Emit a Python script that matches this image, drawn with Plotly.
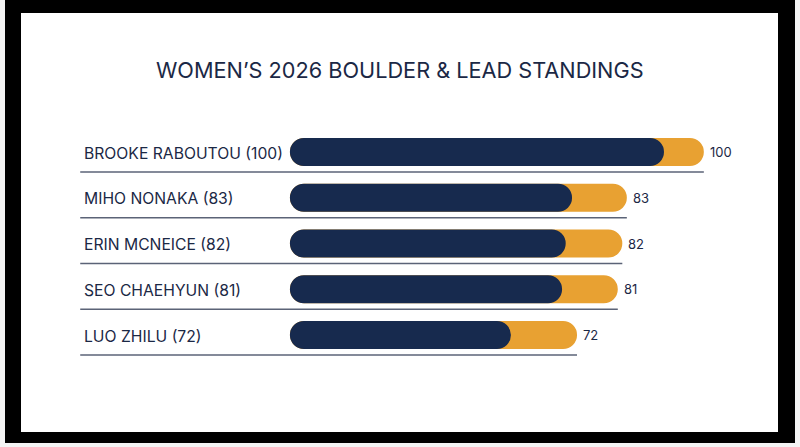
import plotly.graph_objects as go

# standings data
athletes = ["BROOKE RABOUTOU", "MIHO NONAKA", "ERIN MCNEICE", "SEO CHAEHYUN", "LUO ZHILU"]
total_scores = [100, 83, 82, 81, 72]
boulder_part = [91.2, 70.9, 69.5, 68.7, 57.4]

NAVY = "#172a4e"
ORANGE = "#e8a132"
TEXT = "#1b2845"
RULE = "#5b6377"

W, H = 800, 447
BAR_START = 8.6      # where every bar begins on the score axis
LABEL_X = -37.7      # left edge of the name column, in axis units
X_RANGE = [-37.75, 112.4]
Y_RANGE = [6.12, -3.038]
ROW_PX = 45.75
BAR_PX = 28
RULE_OFFSET = 0.437

MARGIN = dict(l=80, r=40, t=13, b=15)


def px_x(px):
    return (px - MARGIN["l"]) / (W - MARGIN["l"] - MARGIN["r"])


def px_y(py):
    return 1 - (py - MARGIN["t"]) / (H - MARGIN["t"] - MARGIN["b"])


rows = list(range(len(athletes)))
fig = go.Figure()

# rules under each row, running from the name to the end of the bar
for i, total in enumerate(total_scores):
    fig.add_trace(go.Scatter(
        x=[LABEL_X, total], y=[i + RULE_OFFSET] * 2, mode="lines",
        line=dict(color=RULE, width=1.5), hoverinfo="skip", showlegend=False,
    ))

# total (lead on top of boulder) first, boulder drawn over it
for values, color in [(total_scores, ORANGE), (boulder_part, NAVY)]:
    fig.add_trace(go.Bar(
        y=rows, x=[v - BAR_START for v in values], base=BAR_START,
        orientation="h", width=BAR_PX / ROW_PX,
        marker=dict(color=color, cornerradius="50%", line_width=0),
        hoverinfo="skip", showlegend=False,
    ))

annotations = []
for i, (name, total) in enumerate(zip(athletes, total_scores)):
    annotations.append(dict(
        x=LABEL_X, y=i, xref="x", yref="y", text=f"{name} ({total})",
        xanchor="left", yanchor="middle", xshift=2, yshift=-1, showarrow=False,
        font=dict(family="Inter", size=15.7, color=TEXT),
    ))
    annotations.append(dict(
        x=total, y=i, xref="x", yref="y", text=str(total),
        xanchor="left", yanchor="middle", xshift=4, showarrow=False,
        font=dict(family="Inter", size=13, color=TEXT),
    ))

annotations.append(dict(
    x=px_x(400), y=px_y(70), xref="paper", yref="paper",
    xanchor="center", yanchor="middle",
    text="WOMEN’S 2026 BOULDER &amp; LEAD STANDINGS", showarrow=False,
    font=dict(family="Inter", size=21.7, color=TEXT),
))

# black frame around a white card
shapes = [
    dict(type="rect", xref="paper", yref="paper", layer="below",
         x0=px_x(5), x1=px_x(795), y0=px_y(443), y1=px_y(0),
         fillcolor="#000000", line_width=0),
    dict(type="rect", xref="paper", yref="paper", layer="below",
         x0=px_x(21), x1=px_x(778), y0=px_y(432), y1=px_y(13),
         fillcolor="#ffffff", line_width=0),
]

fig.update_layout(
    width=W, height=H,
    margin=MARGIN,
    paper_bgcolor="#f4f4f4",
    plot_bgcolor="rgba(0,0,0,0)",
    barmode="overlay",
    xaxis=dict(range=X_RANGE, visible=False, fixedrange=True),
    yaxis=dict(range=Y_RANGE, visible=False, fixedrange=True),
    annotations=annotations,
    shapes=shapes,
)

fig.write_html(
    "out.html",
    config={"displayModeBar": False},
    post_script="document.body.style.margin='0';document.body.style.overflow='hidden';",
)
